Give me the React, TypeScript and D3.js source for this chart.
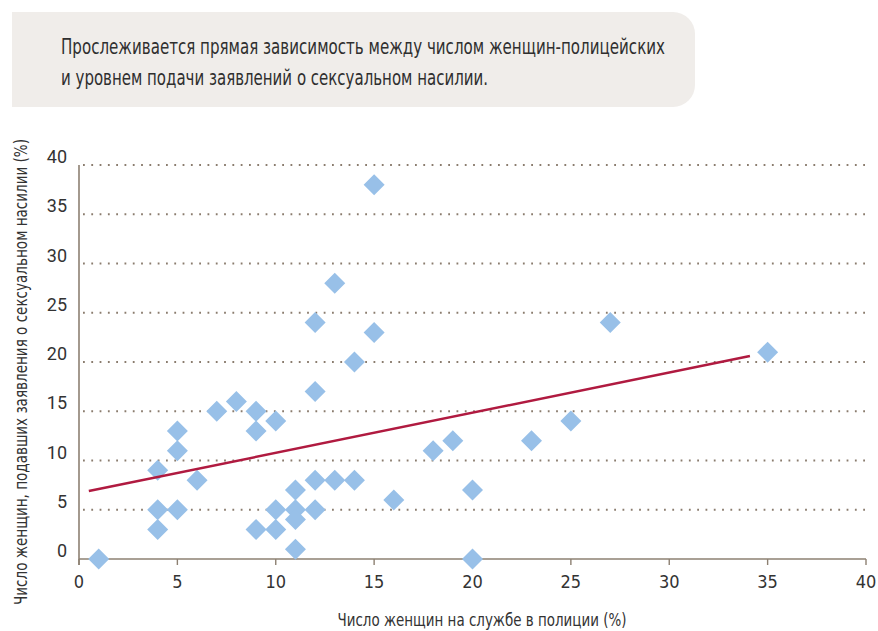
import React from "react";
import { scaleLinear, line, range } from "d3";

// data
const womenPolice: number[] = [1, 4, 4, 4, 5, 5, 5, 6, 7, 8, 9, 9, 9, 10, 10, 10, 11, 11, 11, 11, 12, 12, 12, 12, 13, 13, 14, 14, 15, 15, 16, 18, 19, 20, 20, 23, 25, 27, 35];
const reportsShare: number[] = [0, 9, 5, 3, 13, 11, 5, 8, 15, 16, 15, 13, 3, 14, 5, 3, 7, 5, 4, 1, 24, 17, 8, 5, 28, 8, 20, 8, 38, 23, 6, 11, 12, 7, 0, 12, 14, 24, 21];
const trendX: number[] = [0.5, 34.1];
const trendY: number[] = [6.9, 20.6];
const xTicks: number[] = range(0, 41, 5);
const yTicks: number[] = range(0, 41, 5);

const titleLines = [
  "Прослеживается прямая зависимость между числом женщин-полицейских",
  "и уровнем подачи заявлений о сексуальном насилии.",
];
const titleWidths = [604, 427];
const xTitle = "Число женщин на службе в полиции (%)";
const yTitle = "Число женщин, подавших заявления о сексуальном насилии (%)";

const W = 878;
const H = 631;
const margin = { left: 79, right: 12, top: 165, bottom: 72 };

const condensed = "'DejaVu Sans Condensed', 'Liberation Sans Narrow', 'Roboto Condensed', sans-serif";
const axisColor = "#8d8072";

const App: React.FC = () => {
  const x = scaleLinear().domain([0, 40]).range([margin.left, W - margin.right]);
  const y = scaleLinear().domain([0, 40]).range([H - margin.bottom, margin.top]);

  const trend = line<number>()
    .x((d) => x(d))
    .y((_, i) => y(trendY[i]));

  const r = 10.5;

  return (
    <div style={{ position: "relative", width: W, height: H }}>
      <svg
        width={W}
        height={H}
        style={{ position: "fixed", left: 0, top: 0, background: "#fff" }}
      >
        {/* блок с заголовком */}
        <path
          d="M12,12 H673 A22,22 0 0 1 695,34 V85 A22,22 0 0 1 673,107 H12 Z"
          fill="#f0edea"
        />
        {titleLines.map((t, i) => (
          <text
            key={i}
            x={61}
            y={54 + i * 31}
            fontFamily={condensed}
            fontStretch="condensed"
            fontSize={21}
            fill="#2f2f2f"
            textLength={titleWidths[i]}
            lengthAdjust="spacingAndGlyphs"
          >
            {t}
          </text>
        ))}

        {/* сетка */}
        {yTicks.slice(1).map((t) => (
          <line
            key={t}
            x1={x(0) + 4}
            x2={x(40)}
            y1={y(t)}
            y2={y(t)}
            stroke="#8a7c6e"
            strokeWidth={1.8}
            strokeDasharray="1.8 6.5"
          />
        ))}

        {/* оси */}
        <line x1={x(0)} x2={x(0)} y1={y(40)} y2={y(0) + 6} stroke={axisColor} strokeWidth={1.6} />
        <line x1={x(0)} x2={x(40)} y1={y(0)} y2={y(0)} stroke={axisColor} strokeWidth={1.6} />
        {xTicks.map((t) => (
          <line key={t} x1={x(t)} x2={x(t)} y1={y(0)} y2={y(0) + 6} stroke={axisColor} strokeWidth={1.4} />
        ))}

        {yTicks.map((t) => (
          <text
            key={t}
            x={67}
            y={y(t) - 2}
            textAnchor="end"
            fontFamily="Roboto, 'Liberation Sans', sans-serif"
            fontSize={18}
            fill="#333"
          >
            {t}
          </text>
        ))}
        {xTicks.map((t) => (
          <text
            key={t}
            x={x(t)}
            y={588}
            textAnchor="middle"
            fontFamily={condensed}
            fontStretch="condensed"
            fontSize={18}
            fill="#333"
          >
            {t}
          </text>
        ))}

        <text
          x={482}
          y={626}
          textAnchor="middle"
          fontFamily={condensed}
          fontStretch="condensed"
          fontSize={18}
          fill="#333"
          textLength={289}
          lengthAdjust="spacingAndGlyphs"
        >
          {xTitle}
        </text>
        <text
          transform={`translate(27, ${372}) rotate(-90)`}
          textAnchor="middle"
          fontFamily={condensed}
          fontStretch="condensed"
          fontSize={18}
          fill="#333"
          textLength={466}
          lengthAdjust="spacingAndGlyphs"
        >
          {yTitle}
        </text>

        {/* точки */}
        {womenPolice.map((v, i) => {
          const cx = x(v);
          const cy = y(reportsShare[i]);
          return (
            <path
              key={i}
              d={`M${cx},${cy - r} L${cx + r},${cy} L${cx},${cy + r} L${cx - r},${cy} Z`}
              fill="#98c0e8"
            />
          );
        })}

        {/* линия тренда */}
        <path d={trend(trendX) ?? ""} fill="none" stroke="#b01a40" strokeWidth={2.5} />
      </svg>
    </div>
  );
};

export default App;
